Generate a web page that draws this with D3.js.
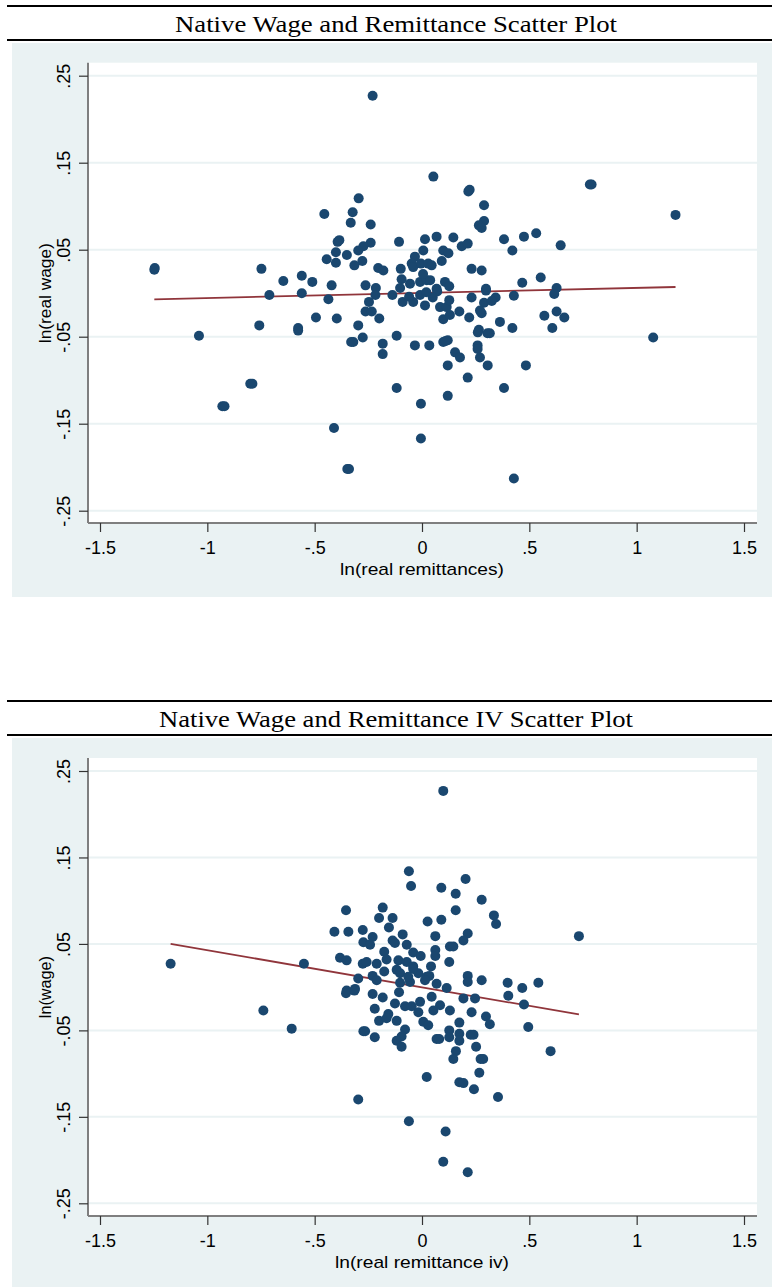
<!DOCTYPE html>
<html>
<head>
<meta charset="utf-8">
<script src="https://cdn.jsdelivr.net/npm/d3@7"></script>
<style>
	body { margin: 0; background: #fff; }
	svg { display: block; }
	.tick-label { font-family: "Liberation Sans", Arial, sans-serif; font-size: 18px; fill: #000; }
	.axis-title { font-family: "Liberation Sans", Arial, sans-serif; font-size: 17px; fill: #000; }
	.panel-title { font-family: "Liberation Serif", "Times New Roman", serif; font-size: 24px; fill: #000; }
</style>
</head>
<body>
<svg id="chart" width="772" height="1287"></svg>
<script>
// ticks shared by both panels
const xTicks = [-1.5, -1, -0.5, 0, 0.5, 1, 1.5];
const xTickLabels = ["-1.5", "-1", "-.5", "0", ".5", "1", "1.5"];
const yTicks = [0.25, 0.15, 0.05, -0.05, -0.15, -0.25];
const yTickLabels = [".25", ".15", ".05", "-.05", "-.15", "-.25"];

// panel 1: ln(real remittances) vs ln(real wage)
const remitPoints = [
	[-0.230, 0.227], [0.053, 0.134], [-0.295, 0.109], [-0.455, 0.091], [-0.323, 0.093],
	[-0.332, 0.081], [-0.239, 0.079], [-0.393, 0.059], [-0.385, 0.061], [-0.107, 0.059],
	[-0.239, 0.058], [-0.273, 0.054], [-0.297, 0.049], [0.014, 0.062], [0.006, 0.049],
	[-0.401, 0.047], [-0.444, 0.039], [-0.350, 0.044], [-0.401, 0.035], [-0.278, 0.037],
	[-0.315, 0.032], [-0.204, 0.029], [-0.180, 0.026], [-0.099, 0.028], [-0.033, 0.042],
	[-0.048, 0.034], [-0.041, 0.030], [-0.005, 0.034], [0.029, 0.034], [-1.247, 0.027],
	[-1.245, 0.029], [-0.748, 0.028], [-0.646, 0.014], [-0.560, 0.020], [-0.511, 0.013],
	[-0.421, 0.009], [-0.095, 0.016], [-0.009, 0.013], [0.022, 0.015], [-0.263, 0.009],
	[-0.215, 0.006], [-0.102, 0.006], [-0.056, 0.011], [0.216, 0.117], [0.222, 0.119],
	[0.289, 0.101], [0.289, 0.083], [0.265, 0.078], [0.278, 0.075], [0.782, 0.125],
	[0.790, 0.125], [1.181, 0.090], [0.068, 0.065], [0.146, 0.064], [0.185, 0.054],
	[0.213, 0.057], [0.382, 0.062], [0.475, 0.065], [0.532, 0.069], [0.646, 0.055],
	[0.421, 0.049], [0.099, 0.049], [0.123, 0.046], [0.092, 0.037], [0.045, 0.032],
	[0.231, 0.028], [0.278, 0.026], [0.467, 0.012], [0.553, 0.018], [0.627, 0.006],
	[0.107, 0.013], [0.127, 0.008], [0.068, 0.005], [0.298, 0.005], [-0.711, -0.002],
	[-0.560, 0.000], [-0.436, -0.007], [-0.217, -0.002], [-0.138, -0.002], [-0.090, -0.010],
	[-0.041, -0.010], [0.014, -0.014], [-0.247, -0.010], [-0.263, -0.021], [-0.234, -0.021],
	[-0.199, -0.029], [-0.494, -0.028], [-0.397, -0.029], [-0.758, -0.037], [-0.577, -0.043],
	[-0.577, -0.040], [-0.297, -0.037], [-1.039, -0.049], [-0.320, -0.056], [-0.330, -0.056],
	[-0.276, -0.051], [-0.183, -0.058], [-0.183, -0.070], [-0.118, -0.049], [-0.033, -0.060],
	[0.034, -0.060], [-0.800, -0.104], [-0.790, -0.104], [-0.930, -0.130], [-0.920, -0.130],
	[-0.118, -0.109], [-0.005, -0.127], [-0.410, -0.155], [-0.005, -0.167], [-0.348, -0.202],
	[-0.340, -0.202], [0.298, 0.003], [0.428, -0.003], [0.616, -0.001], [0.231, -0.005],
	[0.343, -0.005], [0.289, -0.011], [0.325, -0.009], [0.278, -0.023], [0.270, -0.020],
	[0.174, -0.021], [0.220, -0.028], [0.099, -0.030], [0.130, -0.025], [0.084, -0.016],
	[0.115, -0.016], [0.127, -0.008], [0.071, 0.002], [-0.009, -0.002], [0.570, -0.026],
	[0.627, -0.021], [0.663, -0.028], [0.607, -0.040], [0.363, -0.033], [0.421, -0.040],
	[0.265, -0.042], [0.260, -0.045], [0.316, -0.046], [0.305, -0.046], [1.077, -0.051],
	[0.099, -0.056], [0.120, -0.054], [0.110, -0.055], [0.154, -0.068], [0.177, -0.074],
	[0.259, -0.060], [0.259, -0.064], [0.270, -0.074], [0.120, -0.083], [0.306, -0.083],
	[0.484, -0.083], [0.213, -0.097], [0.382, -0.109], [0.120, -0.118], [0.428, -0.213],
	[0.038, 0.015], [0.050, -0.005], [0.020, 0.001], [-0.060, -0.004], [0.005, 0.022]
];
const remitFitX = [-1.247, 1.181];
const remitFitY = [-0.0070, 0.0071];

// panel 2: ln(real remittance iv) vs ln(wage)
const ivPoints = [
	[-0.061, 0.134], [-0.051, 0.117], [-0.354, 0.089], [-0.183, 0.092], [-0.200, 0.080],
	[-0.137, 0.080], [-0.154, 0.069], [0.026, 0.076], [-0.408, 0.064], [-0.343, 0.064],
	[-0.276, 0.066], [-0.230, 0.058], [-0.273, 0.052], [-0.242, 0.049], [-0.137, 0.054],
	[-0.090, 0.061], [-0.126, 0.051], [-0.071, 0.049], [-0.176, 0.041], [-0.041, 0.040],
	[-0.006, 0.036], [-0.165, 0.032], [-0.110, 0.031], [-0.071, 0.029], [-1.171, 0.027],
	[-0.550, 0.027], [-0.382, 0.034], [-0.351, 0.031], [-0.276, 0.027], [-0.258, 0.029],
	[-0.211, 0.027], [-0.176, 0.018], [-0.118, 0.020], [-0.102, 0.016], [-0.041, 0.024],
	[-0.017, 0.016], [0.022, 0.012], [-0.297, 0.010], [-0.230, 0.013], [-0.211, 0.008],
	[-0.312, -0.002], [-0.351, -0.004], [-0.102, 0.005], [-0.056, 0.006], [0.099, 0.227],
	[0.090, 0.115], [0.203, 0.125], [0.157, 0.108], [0.278, 0.101], [0.157, 0.089],
	[0.090, 0.078], [0.335, 0.083], [0.345, 0.073], [0.731, 0.059], [0.062, 0.059],
	[0.213, 0.062], [0.193, 0.054], [0.130, 0.047], [0.146, 0.047], [0.062, 0.043],
	[0.062, 0.036], [0.127, 0.029], [0.042, 0.024], [-0.041, 0.021], [0.034, 0.013],
	[0.068, 0.004], [0.115, -0.001], [0.213, 0.013], [0.213, 0.006], [0.278, 0.008],
	[0.399, 0.005], [0.467, -0.001], [0.542, 0.005], [-0.064, 0.012], [0.014, 0.008],
	[-0.354, -0.007], [-0.315, -0.004], [-0.230, -0.008], [-0.183, -0.012], [-0.107, -0.006],
	[-0.739, -0.027], [-0.220, -0.025], [-0.126, -0.019], [-0.079, -0.022], [-0.048, -0.022],
	[-0.009, -0.017], [-0.017, -0.029], [-0.157, -0.031], [-0.200, -0.039], [-0.165, -0.036],
	[-0.118, -0.039], [0.006, -0.040], [0.029, -0.044], [-0.607, -0.048], [-0.273, -0.051],
	[-0.265, -0.051], [-0.220, -0.058], [-0.079, -0.049], [-0.095, -0.057], [-0.118, -0.062],
	[-0.095, -0.069], [0.022, -0.104], [-0.297, -0.130], [-0.061, -0.155], [0.045, -0.011],
	[0.053, -0.027], [0.084, -0.021], [0.130, -0.027], [0.193, -0.013], [0.247, -0.013],
	[0.402, -0.010], [0.475, -0.020], [0.231, -0.029], [0.298, -0.034], [0.316, -0.043],
	[0.495, -0.046], [0.174, -0.041], [0.127, -0.050], [0.174, -0.054], [0.227, -0.055],
	[0.240, -0.055], [0.068, -0.060], [0.080, -0.060], [0.127, -0.058], [0.174, -0.062],
	[0.252, -0.069], [0.158, -0.074], [0.146, -0.083], [0.273, -0.083], [0.285, -0.083],
	[0.599, -0.074], [0.267, -0.099], [0.174, -0.110], [0.193, -0.111], [0.242, -0.118],
	[0.354, -0.127], [0.110, -0.167], [0.099, -0.202], [0.213, -0.214]
];
const ivFitX = [-1.171, 0.731];
const ivFitY = [0.0501, -0.0316];

const colors = {
	bg: "#eaf2f3",
	grid: "#eaf2f3",
	marker: "#1a476f",
	fit: "#90353b",
	axis: "#7f7f7f"
};

const svg = d3.select("#chart");

function drawPanel(opts) {
	const { top, title, titleWidth, xTitle, xTitleWidth, yTitle, yTitleWidth, points, fitX, fitY, yTopPx, yBottomPx, plotBottom } = opts;
	const g = svg.append("g");

	// header rules + title
	g.append("line")
		.attr("x1", 7).attr("x2", 772)
		.attr("y1", top).attr("y2", top)
		.attr("stroke", "#000").attr("stroke-width", 2);
	g.append("text")
		.attr("class", "panel-title")
		.attr("x", 396)
		.attr("y", top + 26)
		.attr("text-anchor", "middle")
		.attr("textLength", titleWidth)
		.attr("lengthAdjust", "spacingAndGlyphs")
		.text(title);
	g.append("line")
		.attr("x1", 7).attr("x2", 772)
		.attr("y1", top + 34).attr("y2", top + 34)
		.attr("stroke", "#000").attr("stroke-width", 2);

	// background
	g.append("rect")
		.attr("x", 12).attr("y", top + 37)
		.attr("width", 760).attr("height", opts.bgHeight)
		.attr("fill", colors.bg);

	const x = d3.scaleLinear().domain([-1.5, 1.5]).range([100, 744]);
	const y = d3.scaleLinear().domain([-0.25, 0.25]).range([yBottomPx, yTopPx]);

	const plotLeft = 88, plotRight = 757;
	const plotTop = yTopPx - 13;

	g.append("rect")
		.attr("x", plotLeft).attr("y", plotTop)
		.attr("width", plotRight - plotLeft).attr("height", plotBottom - plotTop)
		.attr("fill", "#fff");

	// grid
	g.append("g").selectAll("line")
		.data(yTicks)
		.join("line")
		.attr("x1", plotLeft).attr("x2", plotRight)
		.attr("y1", (d) => y(d)).attr("y2", (d) => y(d))
		.attr("stroke", colors.grid).attr("stroke-width", 2);

	// fit line
	g.append("line")
		.attr("x1", x(fitX[0])).attr("y1", y(fitY[0]))
		.attr("x2", x(fitX[1])).attr("y2", y(fitY[1]))
		.attr("stroke", colors.fit).attr("stroke-width", 1.8);

	// scatter
	g.append("g").selectAll("circle")
		.data(points)
		.join("circle")
		.attr("cx", (d) => x(d[0]))
		.attr("cy", (d) => y(d[1]))
		.attr("r", 5)
		.attr("fill", colors.marker);

	// axes
	const yAxis = d3.axisLeft(y)
		.tickValues(yTicks)
		.tickSize(9)
		.tickFormat((d, i) => yTickLabels[i]);
	const yAxisG = g.append("g")
		.attr("transform", `translate(${plotLeft},0)`)
		.call(yAxis);
	yAxisG.select(".domain")
		.attr("d", `M0,${plotTop}V${plotBottom}`)
		.attr("stroke", colors.axis).attr("stroke-width", 2);
	yAxisG.selectAll(".tick line").attr("stroke", "#333").attr("stroke-width", 1.2);
	yAxisG.selectAll(".tick text")
		.attr("class", "tick-label")
		.attr("x", null).attr("dy", null)
		.attr("text-anchor", "middle")
		.attr("transform", "translate(-23,0) rotate(-90)")
		.attr("y", 0)
		.attr("dominant-baseline", "middle");

	const xAxis = d3.axisBottom(x)
		.tickValues(xTicks)
		.tickSize(9)
		.tickFormat((d, i) => xTickLabels[i]);
	const xAxisG = g.append("g")
		.attr("transform", `translate(0,${plotBottom})`)
		.call(xAxis);
	xAxisG.select(".domain")
		.attr("d", `M${plotLeft},0H${plotRight}`)
		.attr("stroke", colors.axis).attr("stroke-width", 2);
	xAxisG.selectAll(".tick line").attr("stroke", "#333").attr("stroke-width", 1.2);
	xAxisG.selectAll(".tick text")
		.attr("class", "tick-label")
		.attr("dy", null)
		.attr("y", 31);

	// axis titles
	g.append("text")
		.attr("class", "axis-title")
		.attr("x", x(0))
		.attr("y", plotBottom + 52)
		.attr("text-anchor", "middle")
		.attr("textLength", xTitleWidth)
		.attr("lengthAdjust", "spacingAndGlyphs")
		.text(xTitle);
	g.append("text")
		.attr("class", "axis-title")
		.attr("transform", `translate(51,${y(0)}) rotate(-90)`)
		.attr("text-anchor", "middle")
		.attr("textLength", yTitleWidth)
		.attr("lengthAdjust", "spacingAndGlyphs")
		.text(yTitle);
}

drawPanel({
	top: 6,
	title: "Native Wage and Remittance Scatter Plot",
	titleWidth: 442,
	xTitle: "ln(real remittances)",
	xTitleWidth: 164,
	yTitle: "ln(real wage)",
	yTitleWidth: 100,
	points: remitPoints,
	fitX: remitFitX,
	fitY: remitFitY,
	yTopPx: 75.7,
	yBottomPx: 510.7,
	plotBottom: 523,
	bgHeight: 554
});

drawPanel({
	top: 701,
	title: "Native Wage and Remittance IV Scatter Plot",
	titleWidth: 474,
	xTitle: "ln(real remittance iv)",
	xTitleWidth: 174,
	yTitle: "ln(wage)",
	yTitleWidth: 62,
	points: ivPoints,
	fitX: ivFitX,
	fitY: ivFitY,
	yTopPx: 771,
	yBottomPx: 1203.3,
	plotBottom: 1216,
	bgHeight: 550
});
</script>
</body>
</html>
